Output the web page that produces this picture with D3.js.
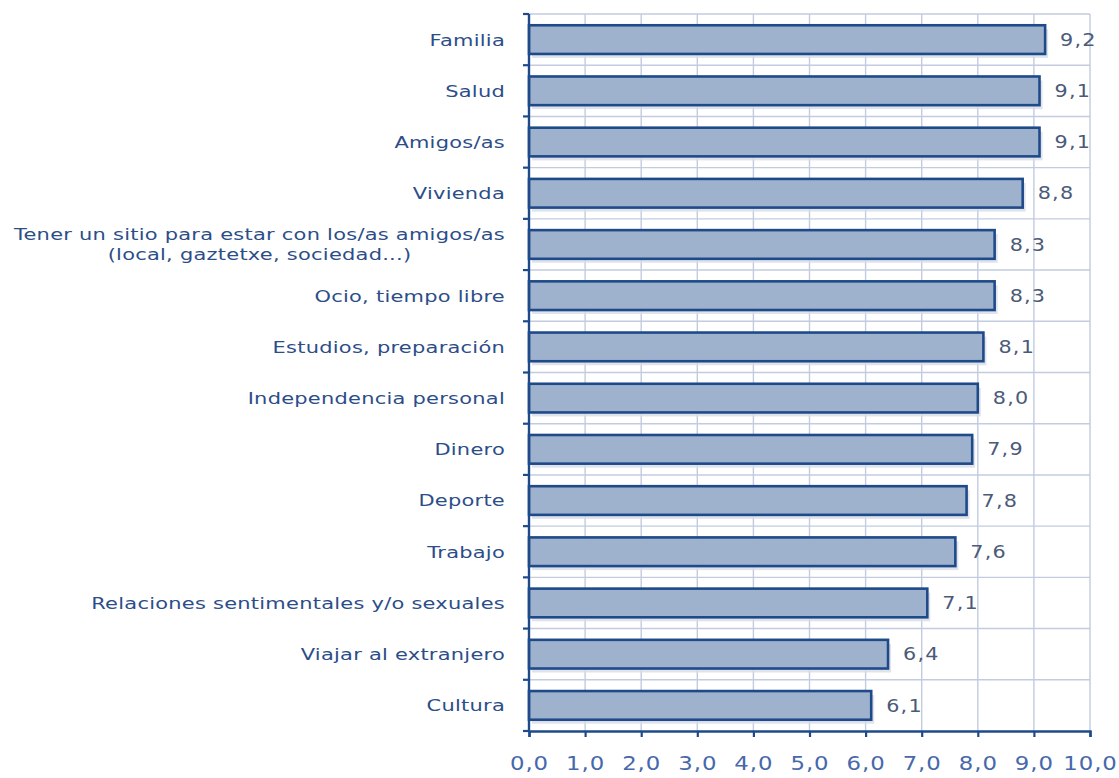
<!DOCTYPE html>
<html>
<head>
<meta charset="utf-8">
<script src="https://cdn.jsdelivr.net/npm/d3@7"></script>
<style>
  html, body { margin: 0; padding: 0; background: #ffffff; }
  svg { display: block; }
</style>
</head>
<body>
<svg id="chart" width="1119" height="778"></svg>
<script>
// Categories (top to bottom) and their mean scores
const categories = [
  "Familia",
  "Salud",
  "Amigos/as",
  "Vivienda",
  "Tener un sitio para estar con los/as amigos/as\n(local, gaztetxe, sociedad...)",
  "Ocio, tiempo libre",
  "Estudios, preparación",
  "Independencia personal",
  "Dinero",
  "Deporte",
  "Trabajo",
  "Relaciones sentimentales y/o sexuales",
  "Viajar al extranjero",
  "Cultura"
];
const values = [9.2, 9.1, 9.1, 8.8, 8.3, 8.3, 8.1, 8.0, 7.9, 7.8, 7.6, 7.1, 6.4, 6.1];
const xTicks = [0, 1, 2, 3, 4, 5, 6, 7, 8, 9, 10];

const fmt = v => v.toFixed(1).replace(".", ",");

const svg = d3.select("#chart");
const margin = { left: 529, right: 1090, top: 14, bottom: 731 };

const x = d3.scaleLinear().domain([0, 10]).range([margin.left, margin.right]);
const y = d3.scaleBand().domain(categories).range([margin.top, margin.bottom]).paddingInner(0.44).paddingOuter(0.22);

const dark = "#1f4a8a";
const gridCol = "#c2cbdf";
const fontFam = "DejaVu Sans, Verdana, sans-serif";
const stretch = 1.27; // wide lettering

// Vertical grid lines
svg.append("g").selectAll("line").data(xTicks.slice(1)).join("line")
  .attr("x1", d => x(d)).attr("x2", d => x(d))
  .attr("y1", margin.top).attr("y2", margin.bottom)
  .attr("stroke", gridCol).attr("stroke-width", 1.4);

// Horizontal grid lines at category boundaries
const bandEdges = d3.range(categories.length + 1).map(i => margin.top + (margin.bottom - margin.top) * i / categories.length);
svg.append("g").selectAll("line").data(bandEdges.slice(0, -1)).join("line")
  .attr("x1", margin.left).attr("x2", margin.right)
  .attr("y1", d => d).attr("y2", d => d)
  .attr("stroke", gridCol).attr("stroke-width", 1.4);

// Bar shadows
svg.append("g").selectAll("rect").data(values).join("rect")
  .attr("x", x(0) + 3)
  .attr("y", (d, i) => y(categories[i]) + 4)
  .attr("width", d => x(d) - x(0))
  .attr("height", y.bandwidth())
  .attr("fill", "#d7dce6").attr("opacity", 0.8);

// Bars
svg.append("g").selectAll("rect").data(values).join("rect")
  .attr("x", x(0))
  .attr("y", (d, i) => y(categories[i]))
  .attr("width", d => x(d) - x(0))
  .attr("height", y.bandwidth())
  .attr("fill", "#9fb2cd")
  .attr("stroke", dark).attr("stroke-width", 2.6);

// Value labels
svg.append("g").selectAll("text").data(values).join("text")
  .attr("transform", (d, i) => `translate(${x(d) + 15},${y(categories[i]) + y.bandwidth() / 2}) scale(1.22,1)`)
  .attr("dy", "0.36em")
  .attr("font-family", fontFam)
  .attr("font-size", 17)
  .attr("letter-spacing", 1)
  .attr("fill", "#4b5a78")
  .text(d => fmt(d));

// Category labels
const labelX = 505;
const labelG = svg.append("g")
  .attr("font-family", fontFam)
  .attr("font-size", 16.5)
  .attr("letter-spacing", 0.2)
  .attr("fill", "#2c4d88");
categories.forEach(c => {
  const lines = c.split("\n");
  const cy = y(c) + y.bandwidth() / 2;
  if (lines.length === 1) {
    labelG.append("text")
      .attr("transform", `translate(${labelX},${cy}) scale(${stretch},1)`)
      .attr("dy", "0.36em")
      .attr("text-anchor", "end").text(lines[0]);
  } else {
    const first = labelG.append("text")
      .attr("transform", `translate(${labelX},${cy - 10}) scale(${stretch},1)`)
      .attr("dy", "0.36em")
      .attr("text-anchor", "end").text(lines[0]);
    const w = first.node().getComputedTextLength() * stretch;
    labelG.append("text")
      .attr("transform", `translate(${labelX - w / 2},${cy + 10}) scale(${stretch},1)`)
      .attr("dy", "0.36em")
      .attr("text-anchor", "middle").text(lines[1]);
  }
});

// Y axis with ticks at band edges
svg.append("line")
  .attr("x1", margin.left).attr("x2", margin.left)
  .attr("y1", margin.top).attr("y2", margin.bottom)
  .attr("stroke", dark).attr("stroke-width", 2.4);
svg.append("g").selectAll("line").data(bandEdges).join("line")
  .attr("x1", margin.left - 6).attr("x2", margin.left)
  .attr("y1", d => d).attr("y2", d => d)
  .attr("stroke", dark).attr("stroke-width", 2.2);

// X axis
const xAxis = d3.axisBottom(x).tickValues(xTicks).tickSize(6).tickFormat(fmt);
const gx = svg.append("g").attr("transform", `translate(0,${margin.bottom})`).call(xAxis);
gx.select(".domain").attr("stroke", dark).attr("stroke-width", 2.4);
gx.selectAll(".tick line").attr("stroke", dark).attr("stroke-width", 2.2);
gx.selectAll(".tick text")
  .attr("y", 26)
  .attr("transform", "scale(1.2,1)")
  .attr("font-family", fontFam)
  .attr("font-size", 19)
  .attr("letter-spacing", 0.8)
  .attr("fill", "#4768aa");
</script>
</body>
</html>
